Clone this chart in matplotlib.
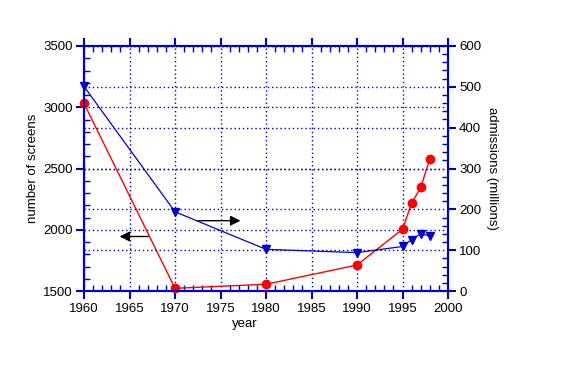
import matplotlib
matplotlib.use('Agg')
import matplotlib.pyplot as plt
from matplotlib.ticker import MultipleLocator

years = [1960, 1970, 1980, 1990, 1995, 1996, 1997, 1998]
screens = [3032, 1522, 1555, 1712, 2004, 2216, 2347, 2575]
admissions = [501, 194, 102, 94, 109, 126, 140, 135]

plt.rcParams['font.family'] = ['Liberation Sans', 'DejaVu Sans']
plt.rcParams['font.size'] = 9.5

blue = '#0000cc'

fig = plt.figure(figsize=(5.75, 3.68), dpi=100)
ax = fig.add_axes([84 / 575, 77 / 368, 364 / 575, 245 / 368])
ax2 = ax.twinx()

# grid from both axes, dotted blue
ax.grid(True, which='major', color=blue, linestyle=(0, (1, 2)), linewidth=1.0)
ax2.grid(True, which='major', axis='y', color=blue, linestyle=(0, (1, 2)), linewidth=1.0)

ax.plot(years, screens, color='red', linewidth=1.0, marker='o', markersize=6,
        zorder=5, clip_on=False)
ax2.plot(years, admissions, color=blue, linewidth=0.9, marker='v', markersize=6,
         zorder=5, clip_on=False)

ax.set_xlim(1960, 2000)
ax.set_ylim(1500, 3500)
ax2.set_ylim(0, 600)

ax.xaxis.set_major_locator(MultipleLocator(5))
ax.xaxis.set_minor_locator(MultipleLocator(1))
ax.yaxis.set_major_locator(MultipleLocator(500))
ax.yaxis.set_minor_locator(MultipleLocator(100))
ax2.yaxis.set_major_locator(MultipleLocator(100))
ax2.yaxis.set_minor_locator(MultipleLocator(20))

for a in (ax, ax2):
    for s in a.spines.values():
        s.set_color(blue)
        s.set_linewidth(1.5)
ax.tick_params(which='major', direction='out', length=6, width=1.5, color=blue,
               top=True, labelsize=9.5)
ax.tick_params(which='minor', direction='in', length=4, width=1.0, color=blue, top=True)
ax.tick_params(axis='y', which='both', right=False)
ax.tick_params(axis='y', pad=2)
ax2.tick_params(which='major', direction='out', length=6, width=1.5, color=blue,
                labelsize=9.5, pad=2)
ax2.tick_params(which='minor', direction='in', length=4, width=1.0, color=blue)
ax.tick_params(axis='x', pad=3)

ax.set_xlabel('year', labelpad=0)
ax.xaxis.set_label_coords((245 - 84) / 364, -0.11)
ax.set_ylabel('number of screens', labelpad=3)
ax2.set_ylabel('admissions (millions)', rotation=270, labelpad=12)

# arrows pointing at the axis each series belongs to
ax.annotate('', xy=(1963.6, 1945), xytext=(1967.4, 1945),
            arrowprops=dict(arrowstyle='-|>', color='black', lw=1, mutation_scale=15))
ax.annotate('', xy=(1977.5, 2074), xytext=(1972.2, 2074),
            arrowprops=dict(arrowstyle='-|>', color='black', lw=1, mutation_scale=15))

fig.savefig('out.png', dpi=100)
